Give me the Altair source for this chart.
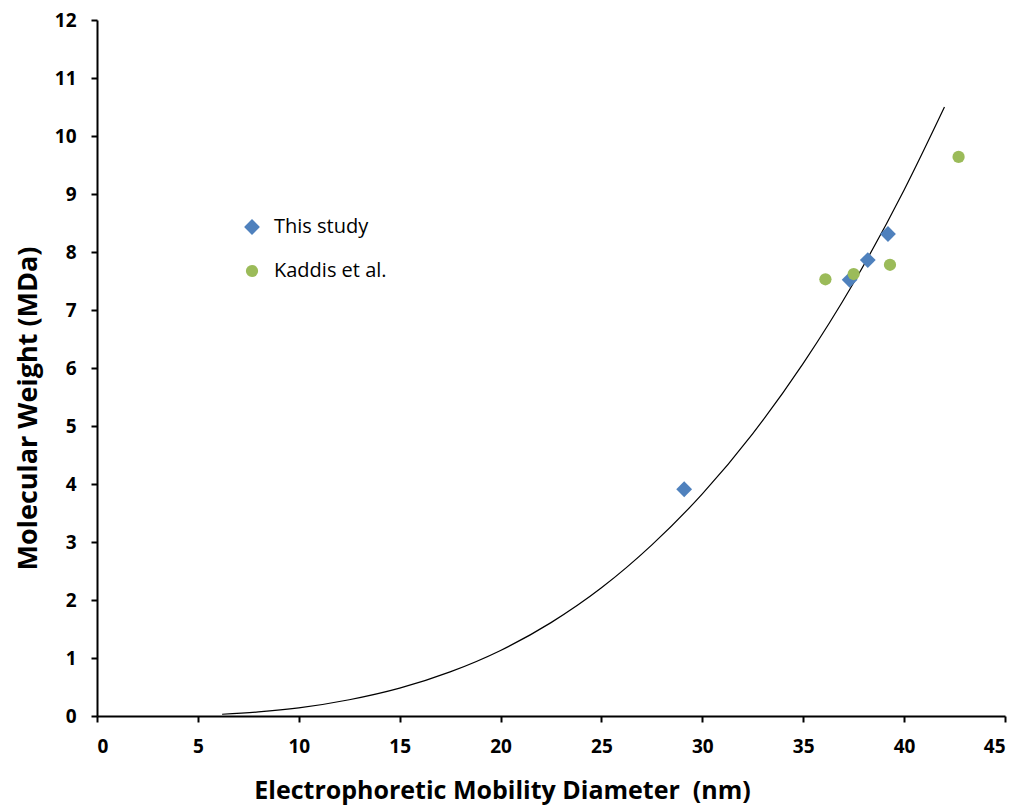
import altair as alt
import pandas as pd

# Data
this_x = [29.1, 37.3, 38.2, 39.2]
this_y = [3.91, 7.52, 7.86, 8.31]
kad_x = [36.1, 37.5, 39.3, 42.7]
kad_y = [7.53, 7.62, 7.78, 9.64]
fit_x = [6.2, 8, 10, 12.5, 15, 17.5, 20, 22.5, 25, 27.5, 30, 32.5, 35, 37.5, 40, 42]
fit_y = [0.03, 0.07, 0.14, 0.28, 0.48, 0.76, 1.13, 1.61, 2.21, 2.95, 3.83, 4.87, 6.08, 7.47, 9.07, 10.5]
series = ["This study", "Kaddis et al."]
colors = ["#4F81BD", "#9BBB59"]
shapes = ["diamond", "circle"]
sizes = [250, 150]

pts = pd.DataFrame({
    "d": this_x + kad_x,
    "mw": this_y + kad_y,
    "series": [series[0]] * len(this_x) + [series[1]] * len(kad_x),
})
fit = pd.DataFrame({"d": fit_x, "mw": fit_y})

FONT = "Open Sans"

xs = alt.Scale(domain=[0, 45], nice=False, zero=False)
ys = alt.Scale(domain=[0, 12], nice=False, zero=False)

common = dict(grid=False, titleFont=FONT, titleFontWeight="bold",
              labelFont=FONT, labelFontSize=19, labelFontWeight="bold", labelPadding=15,
              tickSize=6, tickWidth=2, domainWidth=2, domainColor="black", tickColor="black",
              labelColor="black", titleColor="black", format="d")
xaxis = alt.Axis(values=list(range(0, 46, 5)), title="Electrophoretic Mobility Diameter\u00a0\u00a0(nm)",
                 titleFontSize=25, titleX=405, titleY=62, titleBaseline="top", titleAlign="center",
                 **common)
yaxis = alt.Axis(values=list(range(0, 13)), title="Molecular Weight (MDa)",
                 titleFontSize=27, titleX=-69, titleY=388, titleAngle=-90, titleBaseline="middle",
                 titleAlign="center", **common)

line = alt.Chart(fit).mark_line(color="black", strokeWidth=1.2, interpolate="monotone").encode(
    x=alt.X("d:Q", scale=xs, axis=xaxis),
    y=alt.Y("mw:Q", scale=ys, axis=yaxis),
)

points = alt.Chart(pts).mark_point(filled=True, opacity=1).encode(
    x=alt.X("d:Q", scale=xs),
    y=alt.Y("mw:Q", scale=ys),
    color=alt.Color("series:N", scale=alt.Scale(domain=series, range=colors),
                    legend=alt.Legend(title=None, orient="none", legendX=145, legendY=197,
                                      labelFont=FONT, labelFontSize=20, labelColor="black",
                                      symbolSize=110, rowPadding=24, labelOffset=12)),
    shape=alt.Shape("series:N", scale=alt.Scale(domain=series, range=shapes)),
    size=alt.Size("series:N", scale=alt.Scale(domain=series, range=sizes), legend=None),
)

chart = alt.layer(line, points).properties(
    width=908, height=696,
    autosize=alt.AutoSizeParams(type="none"),
    padding={"left": 89, "top": 12, "right": 5, "bottom": 90},
).configure_view(stroke=None)

chart.save("out.html", embed_options={"renderer": "svg", "actions": False})
